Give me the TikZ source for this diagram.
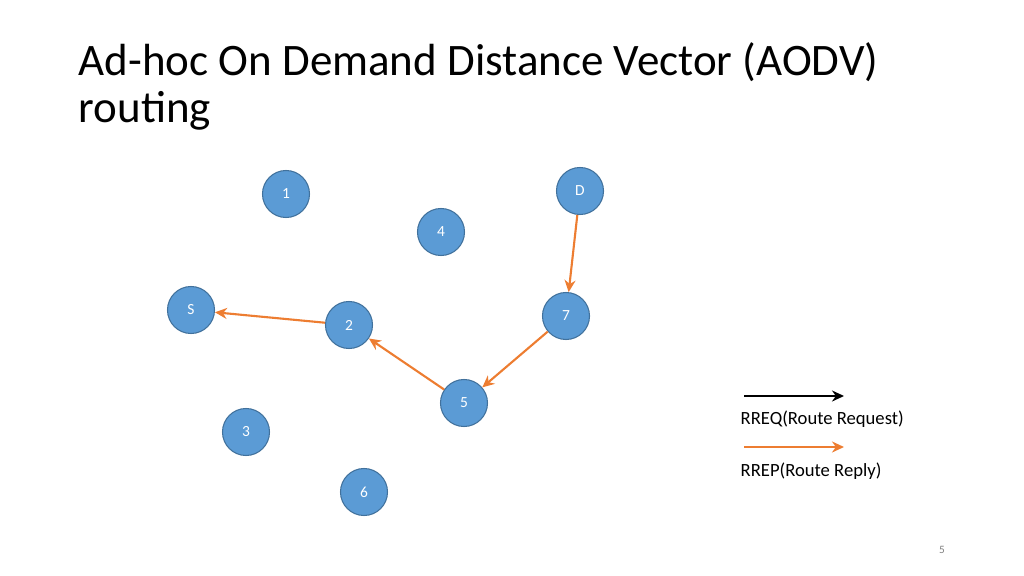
\documentclass[tikz,border=0pt]{standalone}
\usetikzlibrary{arrows.meta}
\usepackage{fontspec}
\setmainfont{Carlito}
\definecolor{nodefill}{RGB}{91,155,213}
\definecolor{nodeedge}{RGB}{65,113,156}
\definecolor{reply}{RGB}{237,125,49}
\begin{document}
\begin{tikzpicture}[x=0.01cm,y=-0.01cm,
  nd/.style={circle,fill=nodefill,draw=nodeedge,line width=0.3pt,minimum size=0.47cm,inner sep=0pt,text=white,font=\fontsize{4.4}{5}\selectfont},
  rep/.style={draw=reply,line width=0.6pt,-{Stealth[length=1.2mm,width=1.1mm]}},
  req/.style={draw=black,line width=0.6pt,-{Stealth[length=1.2mm,width=1.1mm]}},
  lbl/.style={anchor=west,inner sep=0pt,font=\fontsize{5.3}{6}\selectfont}]
\useasboundingbox (0,0) rectangle (1024,576);
\node[anchor=north west,align=left,inner sep=0pt,font=\fontsize{12.8}{13.2}\selectfont] (title) at (78,42) {Ad-hoc On Demand Distance Vector (AODV)\\routing};
\node[nd] (n1) at (286,194) {1};
\node[nd] (nD) at (580,191) {D};
\node[nd] (n4) at (441,232) {4};
\node[nd] (nS) at (191,310) {S};
\node[nd] (n2) at (349,325) {2};
\node[nd] (n7) at (566,316) {7};
\node[nd] (n5) at (464,403) {5};
\node[nd] (n3) at (246,432) {3};
\node[nd] (n6) at (364,492) {6};
\draw[rep] (nD) -- (n7);
\draw[rep] (n7) -- (n5);
\draw[rep] (n5) -- (n2);
\draw[rep] (n2) -- (nS);
\coordinate (a1) at (744,396); \coordinate (b1) at (844,396);
\coordinate (a2) at (744,447); \coordinate (b2) at (844,447);
\draw[req] (a1) -- (b1);
\draw[rep] (a2) -- (b2);
\node[lbl] (t1) at (740,419) {RREQ(Route Request)};
\node[lbl] (t2) at (740,471) {RREP(Route Reply)};
\node[inner sep=0pt,text=gray,font=\fontsize{3.2}{4}\selectfont] (pg) at (942,550) {5};
\end{tikzpicture}
\end{document}
